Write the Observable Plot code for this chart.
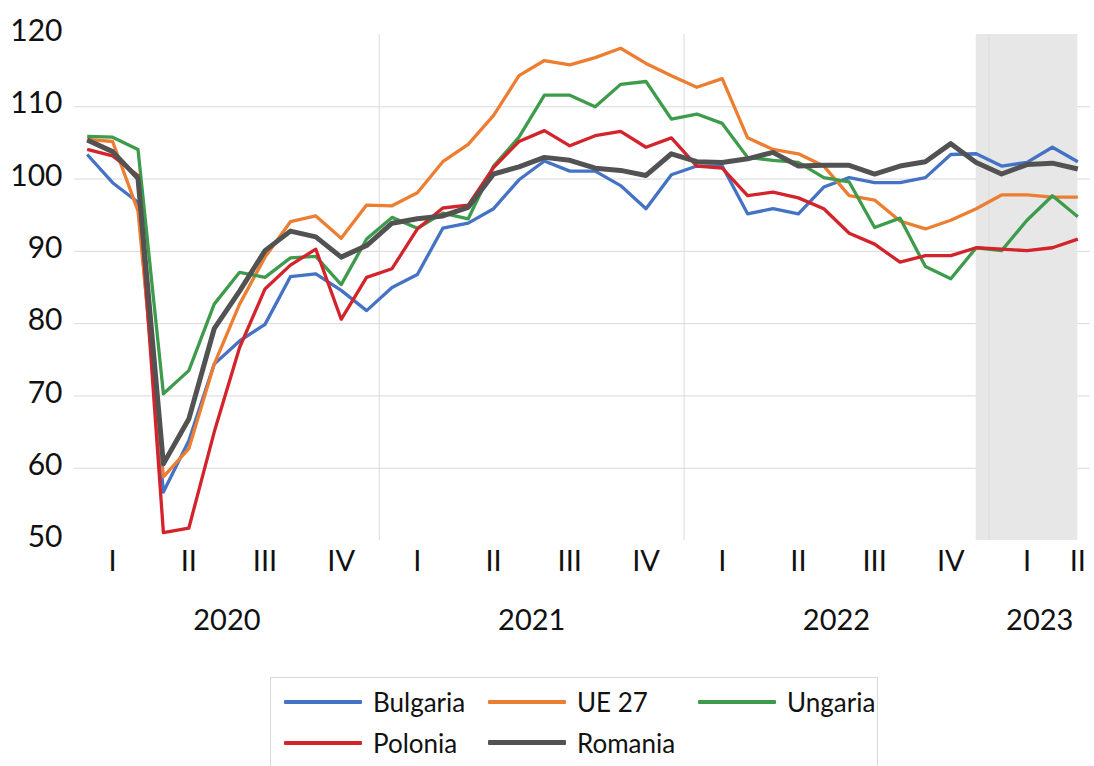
<!DOCTYPE html>
<html>
<head>
<meta charset="utf-8">
<script src="https://cdn.jsdelivr.net/npm/d3@7"></script>
<script src="https://cdn.jsdelivr.net/npm/@observablehq/plot@0.6"></script>
<style>
  body { margin: 0; background: #fff; font-family: Lato, "Open Sans", sans-serif; }
  #chart svg { display: block; }
  #legend {
    margin-left: 270px; margin-top: 12px; width: 608px; height: 100px;
    border: 1px solid #d9d9d9; box-sizing: border-box;
    padding: 3px 0 0 13px;
    display: grid; grid-template-columns: 204px 210px auto; grid-auto-rows: 41px;
  }
  .item { display: flex; align-items: center; font-size: 26px; color: #111; white-space: nowrap; }
  .sw { width: 78px; margin-right: 11px; border-radius: 1px; }
</style>
</head>
<body>
<div id="chart"></div>
<div id="legend"></div>
<script>
// ---- data ----
const months = [
  "2020-01","2020-02","2020-03","2020-04","2020-05","2020-06","2020-07","2020-08","2020-09","2020-10","2020-11","2020-12",
  "2021-01","2021-02","2021-03","2021-04","2021-05","2021-06","2021-07","2021-08","2021-09","2021-10","2021-11","2021-12",
  "2022-01","2022-02","2022-03","2022-04","2022-05","2022-06","2022-07","2022-08","2022-09","2022-10","2022-11","2022-12",
  "2023-01","2023-02","2023-03","2023-04"
];
const quarterNames = ["I", "II", "III", "IV"];
const yTicks = [50, 60, 70, 80, 90, 100, 110, 120];
const gridValues = [60, 70, 80, 90, 100, 110];
const shadedFrom = "2022-12";
const shadedTo = "2023-04";

const seriesNames = ["Bulgaria", "UE 27", "Ungaria", "Polonia", "Romania"];
const seriesColors = ["#4472c4", "#ed7d31", "#3d9b4b", "#d3232b", "#525252"];

const bulgaria = [
  103.4, 99.5, 96.8, 56.7, 63.8, 74.4, 77.6, 79.9, 86.5, 86.9, 84.6, 81.8,
  85.0, 86.8, 93.2, 93.9, 95.9, 99.9, 102.5, 101.1, 101.1, 99.1, 95.9, 100.6,
  101.8, 101.8, 95.2, 95.9, 95.2, 98.9, 100.2, 99.5, 99.5, 100.2, 103.4, 103.5,
  101.8, 102.3, 104.4, 102.4
];
const ue27 = [
  105.5, 105.2, 95.6, 58.8, 62.7, 74.4, 82.7, 89.2, 94.1, 94.9, 91.8, 96.4,
  96.3, 98.1, 102.4, 104.8, 108.8, 114.3, 116.4, 115.8, 116.8, 118.1, 116.0, 114.3,
  112.7, 113.9, 105.7, 104.1, 103.5, 101.8, 97.7, 97.1, 94.2, 93.1, 94.3, 95.9,
  97.8, 97.8, 97.5, 97.5
];
const ungaria = [
  105.9, 105.8, 104.1, 70.3, 73.5, 82.7, 87.1, 86.4, 89.1, 89.3, 85.4, 91.7,
  94.7, 93.2, 95.3, 94.5, 101.8, 105.8, 111.6, 111.6, 110.0, 113.1, 113.5, 108.3,
  109.0, 107.7, 103.0, 102.6, 102.3, 100.2, 99.6, 93.3, 94.6, 87.9, 86.2, 90.5,
  90.1, 94.3, 97.7, 94.8
];
const polonia = [
  104.1, 103.2, 100.5, 51.1, 51.7, 65.0, 76.7, 84.8, 88.1, 90.3, 80.6, 86.4,
  87.6, 93.1, 96.0, 96.4, 101.6, 105.2, 106.7, 104.6, 106.0, 106.6, 104.4, 105.7,
  101.8, 101.5, 97.7, 98.2, 97.4, 95.9, 92.5, 91.0, 88.5, 89.4, 89.4, 90.5,
  90.3, 90.1, 90.5, 91.7
];
const romania = [
  105.4, 103.8, 100.1, 60.6, 66.8, 79.3, 84.5, 90.1, 92.8, 92.0, 89.2, 90.8,
  93.9, 94.5, 94.9, 96.1, 100.7, 101.7, 103.0, 102.6, 101.5, 101.2, 100.5, 103.5,
  102.4, 102.3, 102.8, 103.7, 101.8, 101.9, 101.9, 100.7, 101.8, 102.4, 104.9, 102.3,
  100.7, 102.0, 102.2, 101.4
];
const seriesValues = [bulgaria, ue27, ungaria, polonia, romania];
const seriesWidths = [3.3, 3.3, 3.3, 3.3, 5];

// ---- derived tables ----
const cats = months.map((m, i) => ({ i, year: m.slice(0, 4), q: Math.floor((+m.slice(5) - 1) / 3) }));
const quarterLabels = d3.rollups(cats, g => d3.mean(g, d => d.i), d => d.year, d => d.q)
  .flatMap(([y, qs]) => qs.map(([q, c]) => ({ c, t: quarterNames[q] })));
const yearLabels = d3.rollups(cats, g => d3.mean(g, d => d.i), d => d.year).map(([y, c]) => ({ c, t: y }));
const yearBounds = d3.rollups(cats, g => d3.min(g, d => d.i), d => d.year).slice(1).map(([y, s]) => s - 0.5);
const shade = [{ x1: months.indexOf(shadedFrom), x2: months.indexOf(shadedTo) }];

const lineMarks = seriesNames.map((name, k) =>
  Plot.line(seriesValues[k].map((v, i) => ({ i, v })), {
    x: "i", y: "v", stroke: seriesColors[k], strokeWidth: seriesWidths[k],
    strokeLinejoin: "round", strokeLinecap: "butt"
  })
);

const chart = Plot.plot({
  width: 1094, height: 665,
  marginLeft: 74, marginRight: 4, marginTop: 34, marginBottom: 125,
  style: { fontFamily: "Lato, 'Open Sans', sans-serif", fontSize: "29px", color: "#111", background: "white" },
  x: { domain: [-0.5, months.length - 0.5], axis: null },
  y: { domain: [50, 120], axis: null },
  marks: [
    Plot.gridY(gridValues, { stroke: "#d9d9d9", strokeOpacity: 1, strokeWidth: 1 }),
    Plot.rect(shade, { x1: "x1", x2: "x2", fill: "#e7e7e7" }),
    Plot.ruleX(yearBounds, { stroke: "#dcdcdc", strokeWidth: 1 }),
    Plot.axisY(yTicks, { tickSize: 0, tickPadding: 12, fontSize: 30, dy: -3, label: null, tickFormat: d => String(d) }),
    ...lineMarks,
    Plot.text(quarterLabels, { x: "c", text: "t", frameAnchor: "bottom", dy: 30, fontSize: 29, fill: "#111" }),
    Plot.text(yearLabels, { x: "c", text: "t", frameAnchor: "bottom", dy: 89, fontSize: 29, fill: "#111" })
  ]
});
document.getElementById("chart").append(chart);

// ---- legend ----
const legend = document.getElementById("legend");
seriesNames.forEach((name, k) => {
  const it = document.createElement("div");
  it.className = "item";
  const sw = document.createElement("span");
  sw.className = "sw";
  sw.style.background = seriesColors[k];
  sw.style.height = (k === 4 ? 5 : 4) + "px";
  it.append(sw, document.createTextNode(name));
  legend.append(it);
});
</script>
</body>
</html>
